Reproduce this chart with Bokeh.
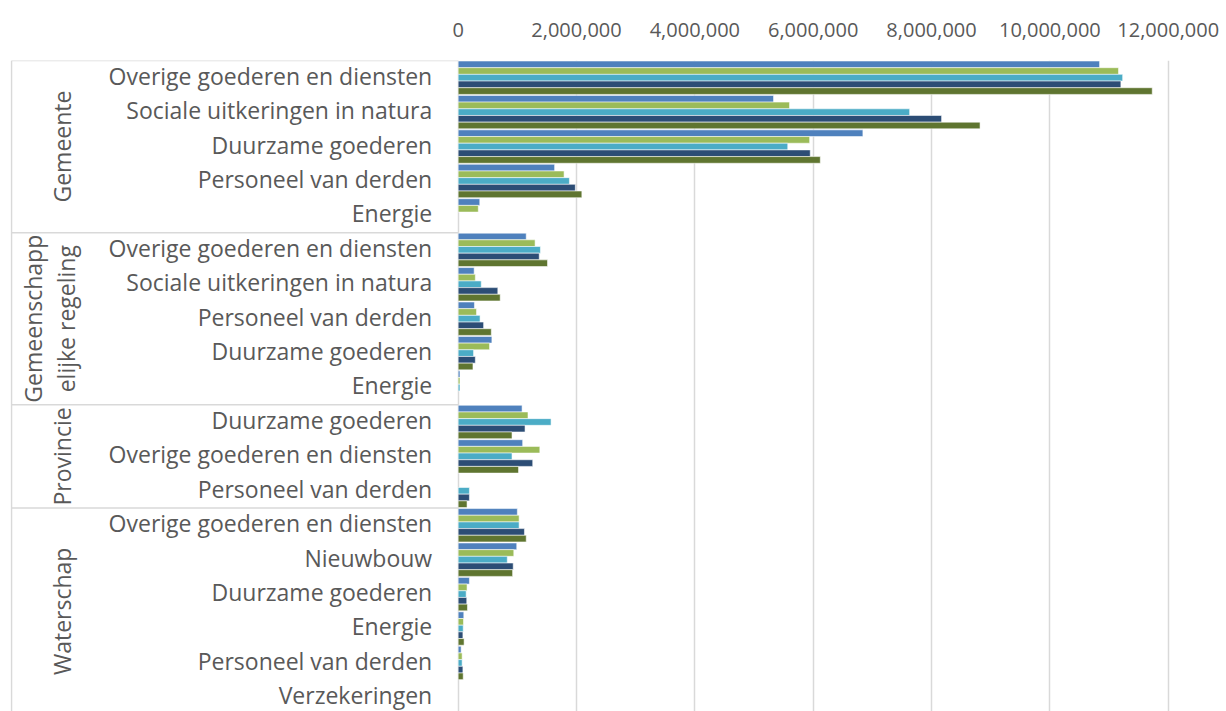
import numpy as np
from bokeh.plotting import figure
from bokeh.models import Range1d, FixedTicker, NumeralTickFormatter, ColumnDataSource
from bokeh.embed import file_html
from bokeh.resources import INLINE
from bokeh.core.properties import value

# ---------------- data ----------------
groups = ["Gemeente", "Gemeenschappelijke regeling", "Provincie", "Waterschap"]
group_labels = ["Gemeente", "Gemeenschapp\nelijke regeling", "Provincie", "Waterschap"]
cat_gemeente = ["Overige goederen en diensten", "Sociale uitkeringen in natura",
                "Duurzame goederen", "Personeel van derden", "Energie"]
cat_gr = ["Overige goederen en diensten", "Sociale uitkeringen in natura",
          "Personeel van derden", "Duurzame goederen", "Energie"]
cat_provincie = ["Duurzame goederen", "Overige goederen en diensten", "Personeel van derden"]
cat_waterschap = ["Overige goederen en diensten", "Nieuwbouw", "Duurzame goederen",
                  "Energie", "Personeel van derden", "Verzekeringen"]
categories = [cat_gemeente, cat_gr, cat_provincie, cat_waterschap]

series_names = ["Reeks 1", "Reeks 2", "Reeks 3", "Reeks 4", "Reeks 5"]
series_colors = ["#4F81BD", "#9BBB59", "#4BACC6", "#2C4D75", "#5F7530"]

# values in the order of the flattened categories above
s1 = [10840000, 5330000, 6840000, 1630000, 365000,
      1150000, 270000, 275000, 570000, 30000,
      1080000, 1090000, 0,
      1000000, 990000, 190000, 95000, 50000, 0]
s2 = [11160000, 5600000, 5940000, 1790000, 340000,
      1300000, 290000, 310000, 530000, 30000,
      1180000, 1380000, 0,
      1030000, 940000, 150000, 90000, 67000, 0]
s3 = [11230000, 7630000, 5570000, 1880000, 0,
      1390000, 390000, 370000, 260000, 30000,
      1570000, 910000, 190000,
      1030000, 830000, 135000, 85000, 67000, 0]
s4 = [11200000, 8170000, 5950000, 1980000, 0,
      1370000, 670000, 430000, 290000, 0,
      1130000, 1260000, 190000,
      1120000, 930000, 145000, 80000, 80000, 0]
s5 = [11730000, 8820000, 6120000, 2090000, 0,
      1510000, 710000, 560000, 250000, 0,
      910000, 1020000, 150000,
      1150000, 920000, 157000, 100000, 85000, 0]
series_values = [s1, s2, s3, s4, s5]

x_ticks = [0, 2000000, 4000000, 6000000, 8000000, 10000000, 12000000]

# ---------------- layout constants ----------------
TEXT = "#595959"
LINE = "#D9D9D9"
FONT = "Open Sans"
X_START, X_END = -7.566e6, 12.985e6      # frame spans label area + plot area
LEFT_BORDER_X = -7.549e6
Y_BOTTOM = 18.91                          # rows visible (top row = 0)
BAR_H = 0.194
LABEL_SHIFT = -0.06                       # nudge category labels up slightly

flat_cats = [c for cats in categories for c in cats]
n_rows = len(flat_cats)
row_idx = np.arange(n_rows)
sizes = [len(c) for c in categories]
bounds = np.concatenate([[0], np.cumsum(sizes)])

p = figure(width=1226, height=711, output_backend="svg", toolbar_location=None,
           x_range=Range1d(X_START, X_END), y_range=Range1d(Y_BOTTOM, 0),
           x_axis_location="above", y_axis_location=None,
           min_border_left=10, min_border_right=0, min_border_top=60, min_border_bottom=0)
p.outline_line_color = None
p.background_fill_color = "white"
p.border_fill_color = "white"

# bars
for k, (name, vals, col) in enumerate(zip(series_names, series_values, series_colors)):
    vals = np.array(vals, dtype=float)
    mask = vals > 0
    src = ColumnDataSource(dict(y=(row_idx + 0.5 + (k - 2) * BAR_H)[mask], v=vals[mask]))
    p.hbar(y="y", left=0, right="v", height=BAR_H, source=src,
           fill_color=col, line_color="white", line_alpha=0.55, line_width=1, name=name)

# separators in label area
sep_y = bounds[:-1]
p.segment(x0=[LEFT_BORDER_X] * len(sep_y), x1=[0] * len(sep_y), y0=sep_y, y1=sep_y,
          line_color=LINE, line_width=1.5)
p.segment(x0=[LEFT_BORDER_X], x1=[LEFT_BORDER_X], y0=[0], y1=[Y_BOTTOM],
          line_color=LINE, line_width=1.5)

# category labels
p.text(x=[0] * n_rows, y=row_idx + 0.5 + LABEL_SHIFT, text=flat_cats, x_offset=-26,
       text_align="right", text_baseline="middle", text_color=TEXT,
       text_font=value(FONT), text_font_size="23px")

# group labels
gx = [-6.69e6, -6.91e6, -6.69e6, -6.69e6]
gy = (bounds[:-1] + bounds[1:]) / 2
p.text(x=gx, y=gy, text=group_labels, angle=np.pi / 2,
       text_align="center", text_baseline="middle", text_color=TEXT,
       text_font=value(FONT), text_font_size="23px", text_line_height=1.05)

# axis
ax = p.xaxis[0]
ax.ticker = FixedTicker(ticks=x_ticks)
ax.formatter = NumeralTickFormatter(format="0,0")
ax.axis_line_color = None
ax.major_tick_line_color = None
ax.minor_tick_line_color = None
ax.major_label_text_color = TEXT
ax.major_label_text_font = FONT
ax.major_label_text_font_size = "20px"
ax.major_label_standoff = 18

p.xgrid.ticker = FixedTicker(ticks=x_ticks)
p.xgrid.grid_line_color = LINE
p.xgrid.grid_line_width = 1.5
p.ygrid.visible = False

open("out.html", "w").write(file_html(p, INLINE))
